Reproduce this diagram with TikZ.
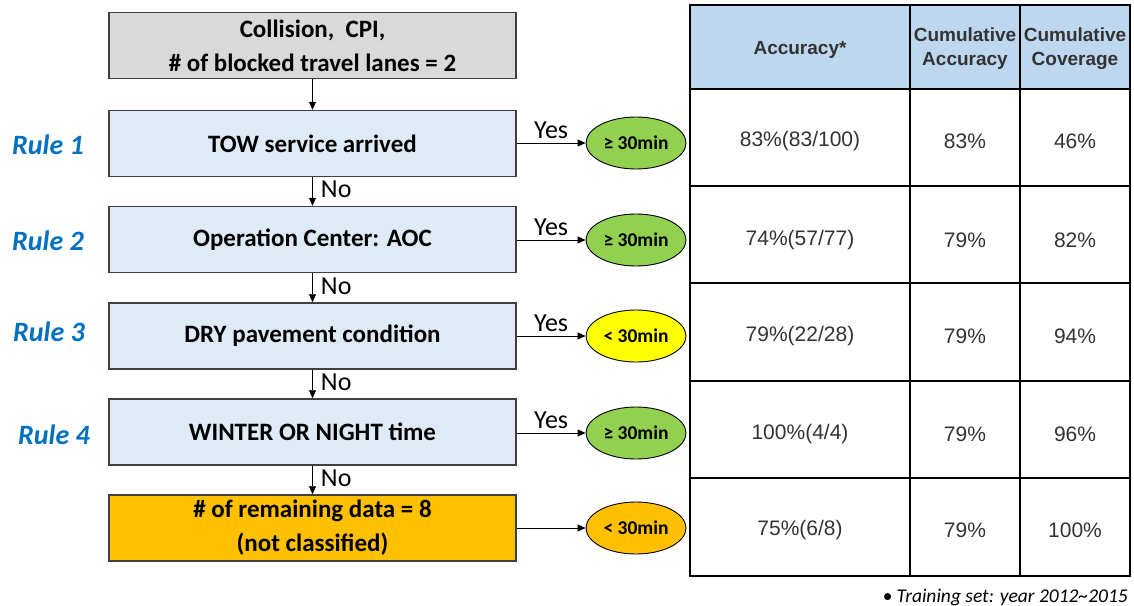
\documentclass[tikz,border=0pt]{standalone}
\usepackage{fontspec}
\setmainfont{Carlito}
\newfontfamily\arialfont{Liberation Sans}
\usetikzlibrary{arrows.meta,shapes.geometric}
\definecolor{boxgray}{HTML}{D9D9D9}
\definecolor{boxblue}{HTML}{DEEBF7}
\definecolor{headblue}{HTML}{BDD7EE}
\definecolor{okgreen}{HTML}{92D050}
\definecolor{warnyellow}{HTML}{FFFF00}
\definecolor{restorange}{HTML}{FFC000}
\definecolor{rulecolor}{HTML}{0070C0}
\definecolor{edge}{HTML}{404040}
\definecolor{celltext}{HTML}{333333}
\begin{document}
\begin{tikzpicture}[x=1pt,y=-1pt,
  flowbox/.style={draw=edge,line width=1.5pt,minimum width=407pt,minimum height=66pt,
    align=center,font=\bfseries\fontsize{25}{34}\selectfont,inner sep=0pt},
  outcome/.style={ellipse,draw=black,line width=0.9pt,minimum width=100pt,minimum height=52pt,
    inner sep=0pt,font=\bfseries\fontsize{19.5}{22}\selectfont},
  rulelabel/.style={text=rulecolor,font=\bfseries\itshape\fontsize{28}{32}\selectfont},
  flowarrow/.style={-{Triangle[length=8pt,width=7pt]},line width=0.9pt},
  answer/.style={font=\fontsize{26}{28}\selectfont,inner sep=0pt},
  cell/.style={text=celltext,font=\arialfont\fontsize{21}{24}\selectfont,align=center},
  headcell/.style={text=celltext,font=\arialfont\bfseries\fontsize{19}{24}\selectfont,align=center},
  grid/.style={line width=1.5pt,black}]
\useasboundingbox (0,0) rectangle (1134,605);

% decision boxes
\node[flowbox,fill=boxgray]   (start) at (312.5,45.5) {Collision,\ \ CPI,\\\# of blocked travel lanes = 2};
\node[flowbox,fill=boxblue]   (r1) at (312.5,143.5) {TOW service arrived};
\node[flowbox,fill=boxblue]   (r2) at (312.5,239.5) {Operation Center: AOC};
\node[flowbox,fill=boxblue]   (r3) at (312.5,336) {DRY pavement condition};
\node[flowbox,fill=boxblue]   (r4) at (312.5,432) {WINTER OR NIGHT time};
\node[flowbox,fill=restorange](rest) at (312.5,528) {\# of remaining data = 8\\(not classified)};

% rule labels
\node[rulelabel] (l1) at (48,145) {Rule 1};
\node[rulelabel] (l2) at (48,241) {Rule 2};
\node[rulelabel] (l3) at (49,332) {Rule 3};
\node[rulelabel] (l4) at (54,435) {Rule 4};

% outcomes
\node[outcome,fill=okgreen]    (o1) at (636,143) {≥ 30min};
\node[outcome,fill=okgreen]    (o2) at (636,240) {≥ 30min};
\node[outcome,fill=warnyellow] (o3) at (636,336) {< 30min};
\node[outcome,fill=okgreen]    (o4) at (636,433) {≥ 30min};
\node[outcome,fill=restorange] (o5) at (636,528) {< 30min};

% vertical flow
\draw[flowarrow] (start) -- (r1);
\draw[flowarrow] (r1) -- node[answer,anchor=west,xshift=8pt,yshift=2pt]{No} (r2);
\draw[flowarrow] (r2) -- node[answer,anchor=west,xshift=8pt,yshift=2pt]{No} (r3);
\draw[flowarrow] (r3) -- node[answer,anchor=west,xshift=8pt,yshift=2pt]{No} (r4);
\draw[flowarrow] (r4) -- node[answer,anchor=west,xshift=8pt,yshift=2pt]{No} (rest);

% outcome arrows
\draw[flowarrow] (r1.east |- o1) -- node[answer,above=4pt]{Yes} (o1);
\draw[flowarrow] (r2.east |- o2) -- node[answer,above=4pt]{Yes} (o2);
\draw[flowarrow] (r3.east |- o3) -- node[answer,above=4pt]{Yes} (o3);
\draw[flowarrow] (r4.east |- o4) -- node[answer,above=4pt]{Yes} (o4);
\draw[flowarrow] (rest.east |- o5) -- (o5);

% results table
\fill[headblue] (690,5) rectangle (1130,89);
\draw[grid] (690,5) rectangle (1130,576);
\foreach \yy in {89,186,283,381,478}
  \draw[grid] (690,\yy) -- (1130,\yy);
\foreach \xx in {910,1020}
  \draw[grid] (\xx,5) -- (\xx,576);

\node[headcell] (h1) at (800,50) {Accuracy*};
\node[headcell] (h2) at (965,49) {Cumulative\\Accuracy};
\node[headcell] (h3) at (1075,49) {Cumulative\\Coverage};

\node[cell] (a1) at (800,141) {83\%(83/100)};
\node[cell] (b1) at (965,141) {83\%};
\node[cell] (c1) at (1075,141) {46\%};
\node[cell] (a2) at (800,240) {74\%(57/77)};
\node[cell] (b2) at (965,240) {79\%};
\node[cell] (c2) at (1075,240) {82\%};
\node[cell] (a3) at (800,336) {79\%(22/28)};
\node[cell] (b3) at (965,336) {79\%};
\node[cell] (c3) at (1075,336) {94\%};
\node[cell] (a4) at (800,434) {100\%(4/4)};
\node[cell] (b4) at (965,434) {79\%};
\node[cell] (c4) at (1075,434) {96\%};
\node[cell] (a5) at (800,530) {75\%(6/8)};
\node[cell] (b5) at (965,530) {79\%};
\node[cell] (c5) at (1075,530) {100\%};

% footnote
\node[anchor=base east,font=\itshape\fontsize{19.5}{22}\selectfont,inner sep=0pt] (note) at (1128,602)
  {• Training set: year 2012\textasciitilde 2015};
\end{tikzpicture}
\end{document}
